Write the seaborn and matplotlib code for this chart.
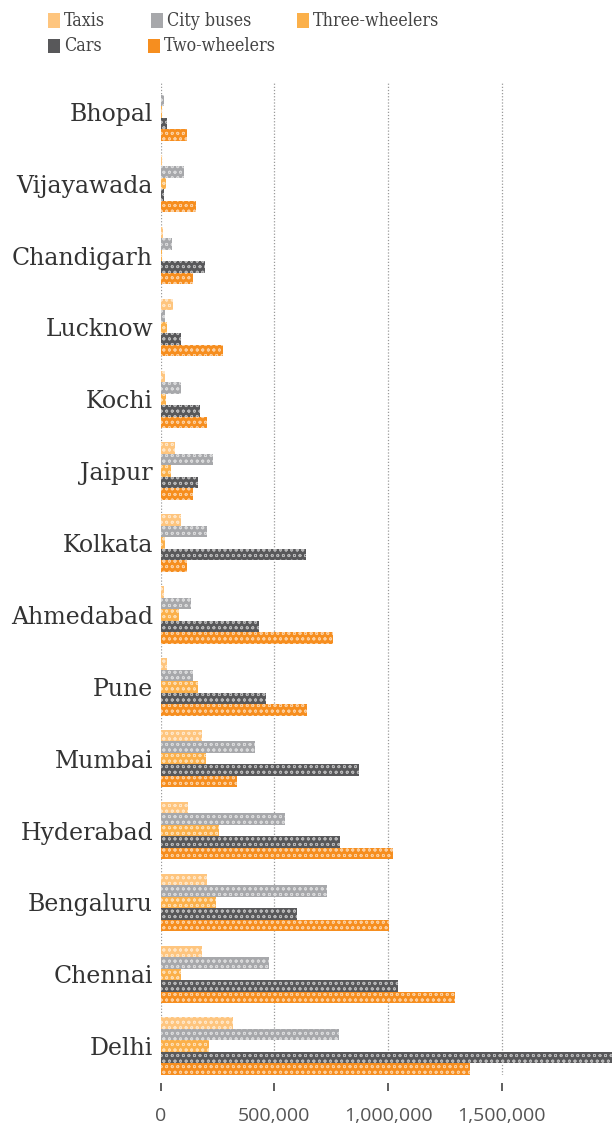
import matplotlib
matplotlib.use("Agg")
import matplotlib.pyplot as plt
from matplotlib.patches import Rectangle
import seaborn as sns
import pandas as pd

# Registered vehicles by city and mode
cities = ["Bhopal", "Vijayawada", "Chandigarh", "Lucknow", "Kochi", "Jaipur",
          "Kolkata", "Ahmedabad", "Pune", "Mumbai", "Hyderabad", "Bengaluru",
          "Chennai", "Delhi"]
modes = ["Taxis", "City buses", "Three-wheelers", "Cars", "Two-wheelers"]

taxis = [3000, 5000, 12000, 55000, 19000, 63000, 88000, 15000, 29000,
         180000, 121000, 202000, 180000, 319000]
city_buses = [15000, 104000, 48000, 19000, 88000, 229000, 205000, 132000,
              141000, 415000, 547000, 730000, 478000, 785000]
three_wheelers = [5000, 22000, 5000, 29000, 23000, 44000, 19000, 80000,
                  163000, 198000, 256000, 243000, 88000, 214000]
cars = [29000, 15000, 195000, 89000, 173000, 163000, 638000, 432000,
        463000, 872000, 788000, 598000, 1045000, 1983000]
two_wheelers = [114000, 155000, 143000, 273000, 205000, 141000, 114000,
                756000, 642000, 337000, 1020000, 1005000, 1294000, 1360000]

tick_values = [0, 500000, 1000000, 1500000]
tick_labels = ["0", "500,000", "1,000,000", "1,500,000"]

colors = ["#FEC57E", "#A7A8AB", "#FBB04A", "#58585A", "#F68E1F"]

series = [taxis, city_buses, three_wheelers, cars, two_wheelers]
df = pd.DataFrame({
    "city": [c for s in series for c in cities],
    "mode": [m for m, s in zip(modes, series) for _ in s],
    "vehicles": [v for s in series for v in s],
})

sns.set_theme(style="white")
plt.rcParams["font.family"] = ["DejaVu Serif", "DejaVu Sans"]
plt.rcParams["hatch.linewidth"] = 0.6

W, H = 612, 1125
fig = plt.figure(figsize=(W / 100, H / 100), dpi=100)

def fx(px):
    return px / W

def fy(py):
    return 1 - py / H

ax_top, ax_bottom, ax_left = 83, 1075, 160.7
ax = fig.add_axes([fx(ax_left), fy(ax_bottom), 1 - fx(ax_left),
                   (ax_bottom - ax_top) / H])

sns.barplot(data=df, y="city", x="vehicles", hue="mode", order=cities,
            hue_order=modes, palette=colors, orient="h", width=0.8,
            saturation=1, legend=False, ax=ax)

# speckled texture on the bars
for p in ax.patches:
    p.set_hatch("ooo")
    p.set_edgecolor((1, 1, 1, 0.55))
    p.set_linewidth(0)

ax.set_xlim(0, 1985000)
ax.set_ylim(13.4, -0.4)
ax.set_xlabel("")
ax.set_ylabel("")

for v in tick_values:
    ax.axvline(v, color="#9a9a9a", linestyle=(0, (1, 1.5)), linewidth=0.9,
               zorder=0)

for side in ["top", "right", "left", "bottom"]:
    ax.spines[side].set_visible(False)
ax.spines["bottom"].set_position(("outward", 6))

ax.set_xticks(tick_values)
ax.set_xticklabels(tick_labels, fontfamily="Open Sans", fontstretch="normal",
                   fontweight="normal", fontsize=14, color="#555555")
ax.tick_params(axis="x", bottom=True, length=6, width=1.2, color="#444444",
               pad=11)
ax.tick_params(axis="y", left=False, length=0, pad=5.5, labelsize=17,
               labelcolor="#333333")

# legend laid out in two rows
legend_rows = [
    [("Taxis", 48), ("City buses", 151), ("Three-wheelers", 297)],
    [("Cars", 48), ("Two-wheelers", 148)],
]
row_y = [20.5, 46]
for row, yc in zip(legend_rows, row_y):
    for name, x0 in row:
        col = colors[modes.index(name)]
        fig.add_artist(Rectangle((fx(x0), fy(yc + 7)), 12 / W, 14 / H,
                                 transform=fig.transFigure, facecolor=col,
                                 edgecolor="none"))
        fig.text(fx(x0 + 16), fy(yc), name, fontsize=12.8, fontstretch="condensed",
                 color="#444444", va="center", ha="left")

fig.savefig("out.png", dpi=100)
